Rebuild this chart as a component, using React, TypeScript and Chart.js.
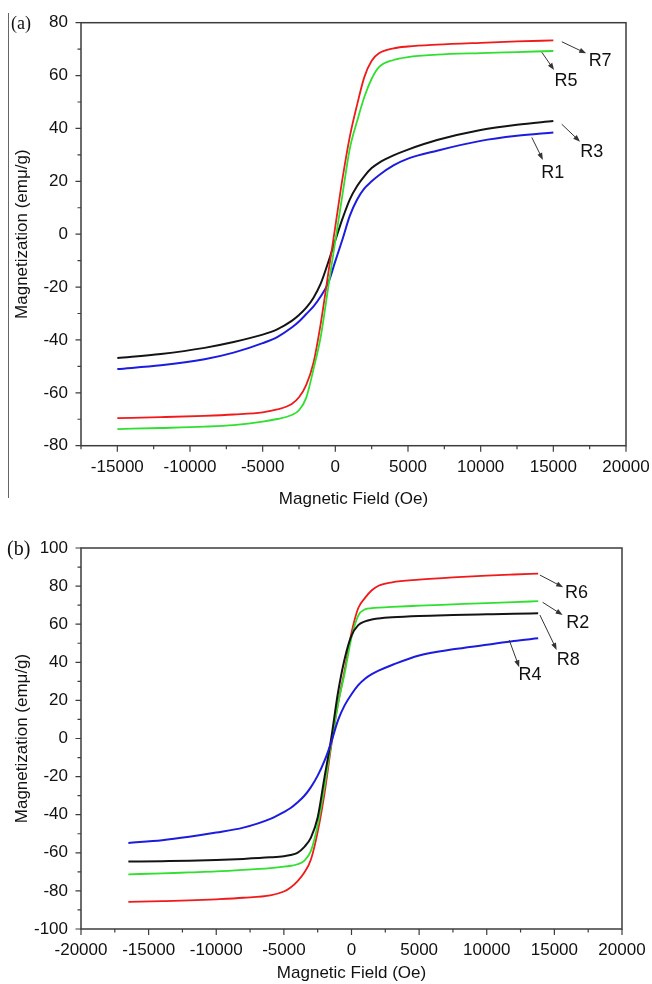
import { useEffect, useRef } from "react";
import { Chart, registerables } from "chart.js";

Chart.register(...registerables);

// ---- Panel (a) data: magnetization (emu/g) vs field (Oe)
const fieldA = [-15000, -12000, -9000, -7000, -5000, -4000, -3000, -2500, -2000, -1500, -1000, -500, 0, 500, 1000, 1500, 2000, 2500, 3000, 4000, 5000, 7000, 10000, 12500, 15000];
const magR7 = [-69.6, -69.2, -68.7, -68.2, -67.4, -66.3, -64.2, -61.7, -57.0, -48.5, -33.6, -15.3, 3.0, 21.3, 37.0, 49.0, 59.5, 65.6, 68.4, 70.3, 71.0, 71.7, 72.4, 72.9, 73.3];
const magR5 = [-73.7, -73.3, -72.8, -72.2, -70.9, -69.9, -68.4, -66.6, -61.8, -51.0, -38.6, -20.5, -2.4, 15.3, 32.5, 42.8, 52.0, 58.8, 63.2, 65.9, 67.0, 67.9, 68.5, 68.9, 69.3];
const magR3 = [-46.8, -45.3, -43.0, -40.8, -38.0, -36.0, -32.8, -30.6, -27.8, -24.0, -18.6, -10.8, -2.3, 6.0, 13.2, 18.2, 22.0, 25.0, 27.0, 29.8, 32.0, 35.6, 39.4, 41.4, 42.8];
const magR1 = [-51.0, -49.6, -47.3, -44.8, -41.2, -38.9, -35.3, -33.0, -30.2, -27.3, -23.5, -18.6, -10.2, -1.8, 7.0, 13.1, 17.3, 20.0, 22.3, 26.0, 28.6, 31.6, 35.3, 37.2, 38.5];

// ---- Panel (b) data
const fieldB = [-16500, -14000, -12000, -10000, -8000, -6000, -5000, -4500, -4000, -3500, -3000, -2500, -2000, -1500, -1000, -500, 0, 500, 1000, 1500, 2000, 3000, 5000, 7500, 10000, 12000, 13800];
const magR6 = [-85.8, -85.4, -85.0, -84.4, -83.6, -82.3, -80.3, -78.2, -75.0, -70.5, -63.5, -49.0, -29.0, -4.0, 18.0, 36.0, 55.5, 68.5, 73.8, 77.8, 80.2, 82.0, 83.4, 84.6, 85.5, 86.1, 86.6];
const magR2 = [-71.3, -70.8, -70.3, -69.8, -69.0, -68.0, -67.3, -66.8, -66.0, -64.2, -59.0, -45.5, -25.5, -2.5, 18.0, 34.5, 53.0, 64.5, 67.8, 68.4, 68.7, 69.1, 69.7, 70.4, 71.1, 71.6, 72.1];
const magR8 = [-64.6, -64.4, -64.2, -63.8, -63.2, -62.4, -61.8, -61.2, -60.0, -57.0, -52.0, -41.5, -20.5, 0.0, 24.0, 42.0, 54.0, 59.5, 61.5, 62.5, 63.0, 63.6, 64.3, 64.8, 65.2, 65.5, 65.7];
const magR4 = [-54.8, -53.4, -51.6, -49.4, -46.8, -42.2, -38.6, -36.5, -33.6, -30.2, -25.5, -19.5, -11.8, -2.0, 9.5, 17.5, 23.2, 28.0, 31.4, 33.8, 35.6, 38.6, 43.6, 46.8, 49.2, 51.2, 52.6];

// ---- Axis ticks
const xMajorA = [-15000, -10000, -5000, 0, 5000, 10000, 15000, 20000];
const xMinorA = [-17500, -12500, -7500, -2500, 2500, 7500, 12500, 17500];
const yMajorA = [-80, -60, -40, -20, 0, 20, 40, 60, 80];
const yMinorA = [-70, -50, -30, -10, 10, 30, 50, 70];

const xMajorB = [-20000, -15000, -10000, -5000, 0, 5000, 10000, 15000, 20000];
const xMinorB = [-17500, -12500, -7500, -2500, 2500, 7500, 12500, 17500];
const yMajorB = [-100, -80, -60, -40, -20, 0, 20, 40, 60, 80, 100];
const yMinorB = [-90, -70, -50, -30, -10, 10, 30, 50, 70, 90];

// ---- Sample labels with pointer arrows: [label, fromX, fromY, toX, toY, textX, textY]
const calloutsA: [string, number, number, number, number, number, number][] = [
  ["R7", 15580, 72.8, 17260, 68.4, 18220, 65.6],
  ["R5", 14210, 68.8, 15050, 62.1, 15880, 58.1],
  ["R3", 15580, 41.6, 16840, 35.0, 17650, 31.2],
  ["R1", 13520, 36.6, 14280, 28.1, 14960, 23.3],
];
const calloutsB: [string, number, number, number, number, number, number][] = [
  ["R6", 13930, 85.8, 15650, 79.4, 16640, 76.2],
  ["R2", 14130, 71.5, 15610, 64.8, 16720, 60.8],
  ["R8", 13930, 64.8, 15170, 46.5, 16020, 41.2],
  ["R4", 11660, 51.7, 12400, 37.4, 13190, 33.3],
];

const RED = "#f01a1a";
const GREEN = "#2fe02f";
const BLACK = "#141414";
const BLUE = "#1c1ce0";
const SANS = "'Liberation Sans', Arial, sans-serif";

type Panel = {
  field: number[];
  series: { mag: number[]; color: string; width: number }[];
  xMin: number;
  xMax: number;
  yMin: number;
  yMax: number;
  xMajor: number[];
  xMinor: number[];
  yMajor: number[];
  yMinor: number[];
  callouts: [string, number, number, number, number, number, number][];
  padding: { left: number; right: number; top: number; bottom: number };
  xHeight: number;
};

const frameTicksPlugin = {
  id: "frameTicks",
  afterDraw(chart: any, _args: any, opts: any) {
    const { ctx, chartArea: a, scales } = chart;
    const x = scales.x;
    const y = scales.y;
    ctx.save();
    ctx.strokeStyle = "#3c3c3c";
    ctx.lineWidth = 1.5;
    ctx.strokeRect(a.left, a.top, a.right - a.left, a.bottom - a.top);

    ctx.lineWidth = 1.2;
    ctx.beginPath();
    const tick = (vals: number[], len: number, horiz: boolean) => {
      for (const v of vals) {
        if (horiz) {
          const px = x.getPixelForValue(v);
          ctx.moveTo(px, a.bottom);
          ctx.lineTo(px, a.bottom + len);
        } else {
          const py = y.getPixelForValue(v);
          ctx.moveTo(a.left, py);
          ctx.lineTo(a.left - len, py);
        }
      }
    };
    tick(opts.xMajor, 6, true);
    tick(opts.xMinor, 3.5, true);
    tick(opts.yMajor, 5.5, false);
    tick(opts.yMinor, 3.5, false);
    ctx.stroke();

    // pointer arrows and sample names
    ctx.strokeStyle = "#333";
    ctx.fillStyle = "#333";
    ctx.lineWidth = 1;
    for (const c of opts.callouts) {
      const [name, fx, fy, tx, ty, lx, ly] = c;
      const x0 = x.getPixelForValue(fx);
      const y0 = y.getPixelForValue(fy);
      const x1 = x.getPixelForValue(tx);
      const y1 = y.getPixelForValue(ty);
      const ang = Math.atan2(y1 - y0, x1 - x0);
      const hl = 7;
      const hw = 2.6;
      ctx.beginPath();
      ctx.moveTo(x0, y0);
      ctx.lineTo(x1 - Math.cos(ang) * hl * 0.8, y1 - Math.sin(ang) * hl * 0.8);
      ctx.stroke();
      ctx.beginPath();
      ctx.moveTo(x1, y1);
      ctx.lineTo(x1 - Math.cos(ang) * hl - Math.sin(ang) * hw, y1 - Math.sin(ang) * hl + Math.cos(ang) * hw);
      ctx.lineTo(x1 - Math.cos(ang) * hl + Math.sin(ang) * hw, y1 - Math.sin(ang) * hl - Math.cos(ang) * hw);
      ctx.closePath();
      ctx.fill();
      ctx.save();
      ctx.fillStyle = "#111";
      ctx.font = `18px ${SANS}`;
      ctx.textAlign = "center";
      ctx.textBaseline = "middle";
      ctx.fillText(name, x.getPixelForValue(lx), y.getPixelForValue(ly));
      ctx.restore();
    }
    ctx.restore();
  },
};

function makeConfig(p: Panel): any {
  return {
    type: "line",
    data: {
      datasets: p.series.map((s) => ({
        data: p.field.map((f, i) => ({ x: f, y: s.mag[i] })),
        borderColor: s.color,
        borderWidth: s.width,
        pointRadius: 0,
        fill: false,
        cubicInterpolationMode: "monotone",
      })),
    },
    options: {
      animation: false,
      responsive: false,
      maintainAspectRatio: false,
      devicePixelRatio: 1,
      layout: { padding: p.padding },
      plugins: {
        legend: { display: false },
        tooltip: { enabled: false },
        frameTicks: {
          xMajor: p.xMajor,
          xMinor: p.xMinor,
          yMajor: p.yMajor,
          yMinor: p.yMinor,
          callouts: p.callouts,
        },
      },
      scales: {
        x: {
          type: "linear",
          min: p.xMin,
          max: p.xMax,
          afterBuildTicks: (s: any) => {
            s.ticks = p.xMajor.map((v) => ({ value: v }));
          },
          afterFit: (s: any) => {
            s.height = p.xHeight;
            s.paddingLeft = 0;
            s.paddingRight = 0;
          },
          grid: { display: false, drawTicks: false },
          border: { display: false },
          ticks: {
            padding: 11,
            color: "#111",
            font: { family: SANS, size: 17 },
            maxRotation: 0,
            autoSkip: false,
            callback: (v: number) => String(v),
          },
          title: {
            display: true,
            text: "Magnetic Field (Oe)",
            color: "#111",
            font: { family: SANS, size: 17 },
            padding: { top: 0, bottom: 0 },
          },
        },
        y: {
          type: "linear",
          min: p.yMin,
          max: p.yMax,
          afterBuildTicks: (s: any) => {
            s.ticks = p.yMajor.map((v) => ({ value: v }));
          },
          afterFit: (s: any) => {
            s.width = 81;
            s.paddingTop = 0;
            s.paddingBottom = 0;
          },
          grid: { display: false, drawTicks: false },
          border: { display: false },
          ticks: {
            padding: 13,
            color: "#111",
            font: { family: SANS, size: 17 },
            autoSkip: false,
            callback: (v: number) => String(v),
          },
          title: {
            display: true,
            text: "Magnetization (emμ/g)",
            color: "#111",
            font: { family: SANS, size: 17 },
            padding: { top: 12, bottom: 0 },
          },
        },
      },
    },
    plugins: [frameTicksPlugin],
  };
}

const panelA: Panel = {
  field: fieldA,
  series: [
    { mag: magR5, color: GREEN, width: 1.8 },
    { mag: magR7, color: RED, width: 1.8 },
    { mag: magR1, color: BLUE, width: 2 },
    { mag: magR3, color: BLACK, width: 2 },
  ],
  xMin: -17500,
  xMax: 20000,
  yMin: -80,
  yMax: 80,
  xMajor: xMajorA,
  xMinor: xMinorA,
  yMajor: yMajorA,
  yMinor: yMinorA,
  callouts: calloutsA,
  padding: { left: 0, right: 26, top: 22.7, bottom: 0 },
  xHeight: 64.3,
};

const panelB: Panel = {
  field: fieldB,
  series: [
    { mag: magR4, color: BLUE, width: 2 },
    { mag: magR8, color: BLACK, width: 2 },
    { mag: magR2, color: GREEN, width: 1.8 },
    { mag: magR6, color: RED, width: 1.8 },
  ],
  xMin: -20000,
  xMax: 20000,
  yMin: -100,
  yMax: 100,
  xMajor: xMajorB,
  xMinor: xMinorB,
  yMajor: yMajorB,
  yMinor: yMinorB,
  callouts: calloutsB,
  padding: { left: 0, right: 30, top: 36, bottom: 0 },
  xHeight: 55,
};

function PanelChart({ panel, top, height }: { panel: Panel; top: number; height: number }) {
  const ref = useRef<HTMLCanvasElement | null>(null);
  useEffect(() => {
    if (!ref.current) return;
    const chart = new Chart(ref.current, makeConfig(panel));
    return () => chart.destroy();
  }, [panel]);
  return (
    <canvas
      ref={ref}
      width={652}
      height={height}
      style={{ position: "absolute", left: 0, top, width: 652, height }}
    />
  );
}

export default function App() {
  return (
    <div style={{ position: "absolute", left: 0, top: 0, width: 652, height: 984, background: "#fff", overflow: "hidden" }}>
      <div style={{ position: "absolute", left: 8, top: 13, width: 1, height: 485, background: "#666" }} />
      <PanelChart panel={panelA} top={0} height={510} />
      <PanelChart panel={panelB} top={512} height={472} />
      <div
        style={{
          position: "absolute",
          left: 11,
          top: 12,
          font: "18px 'Liberation Serif', 'Times New Roman', serif",
          color: "#111",
          lineHeight: "22px",
        }}
      >
        (a)
      </div>
      <div
        style={{
          position: "absolute",
          left: 7,
          top: 536,
          font: "20px 'Liberation Serif', 'Times New Roman', serif",
          color: "#111",
          lineHeight: "24px",
        }}
      >
        (b)
      </div>
    </div>
  );
}
